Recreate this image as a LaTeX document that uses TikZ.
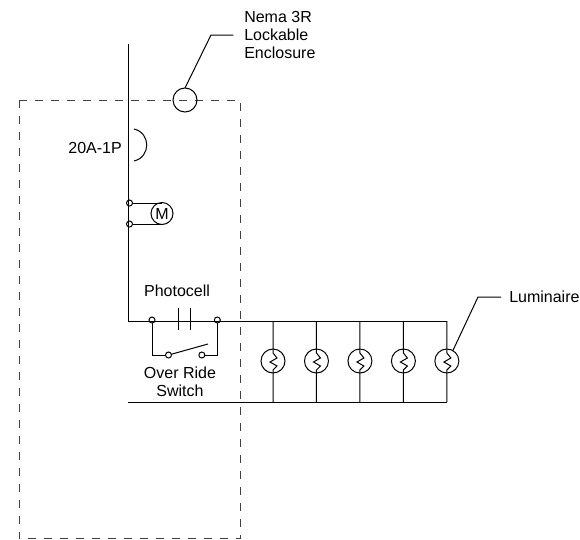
\documentclass[tikz,border=0pt]{standalone}
\usepackage{fontspec}
\setmainfont{Liberation Sans}
\usetikzlibrary{positioning}

\begin{document}
\begin{tikzpicture}[
        x=0.75pt, y=-0.75pt,
        wire/.style={line width=0.75pt},
        label/.style={inner sep=0pt, align=center, font=\fontsize{12}{13.5}\selectfont},
        terminal/.style={draw, circle, inner sep=0pt, outer sep=0pt, minimum size=4.5pt, line width=0.75pt},
        lamp/.style={draw, circle, inner sep=0pt, outer sep=0pt, minimum size=18pt, line width=0.75pt},
        motor/.style={draw, circle, inner sep=0pt, outer sep=0pt, minimum size=16.5pt, line width=0.75pt, font=\fontsize{12}{13.5}\selectfont},
        enclosure/.style={line width=0.75pt, draw=black!75, dash pattern=on 6pt off 6pt}
    ]
        \useasboundingbox (0,0) rectangle (580,539);

        % Enclosure
        \coordinate (boxA) at (19,100);
        \coordinate (boxB) at (240,538.8);
        \draw[enclosure] (boxA) rectangle (boxB);
        \node[lamp] (enc) at (185,100) {};
        \node[label, anchor=west, align=left] (nema) at (244,35) {Nema 3R\\[0pt]Lockable\\[0pt]Enclosure};
        \coordinate (nemakink) at (211,35);
        \draw[wire, shorten >=8pt] (enc.north) -- (nemakink) -- (nema.west);

        % Feeder
        \coordinate (feedtop) at (128,44);
        \coordinate (feedcorner) at (128,321);
        \coordinate (feedend) at (447,321);
        \coordinate (neutralstart) at (128,402);
        \coordinate (neutralend) at (447,402);
        \draw[wire] (feedtop) -- (feedcorner) -- (feedend);
        \draw[wire] (neutralstart) -- (neutralend);

        % Breaker
        \coordinate (brkA) at (134,129);
        \coordinate (brkB) at (134,161);
        \coordinate (brkC) at (151,133);
        \coordinate (brkD) at (151,157);
        \draw[wire] (brkA) .. controls (brkC) and (brkD) .. (brkB);
        \node[label, anchor=east] (breaker) at (122,148) {20A-1P};

        % Motor
        \node[terminal] (mtrA) at (129.5,203) {};
        \node[terminal, below=11.25pt of mtrA] (mtrB) {};
        \node[motor] (mtr) at (162,213.5) {M};
        \draw[wire] (mtrA) -- (mtrA -| mtr);
        \draw[wire] (mtrB) -- (mtrB -| mtr);

        % Photocell
        \node[label] (photo) at (177,291) {Photocell};
        \node[terminal] (pcA) at (152,320) {};
        \node[terminal, right=44.5pt of pcA] (pcB) {};
        \coordinate (plateA) at (178,308);
        \coordinate (plateB) at (178,330);
        \coordinate (plateC) at (190,308);
        \coordinate (plateD) at (190,330);
        \draw[wire] (plateA) -- (plateB);
        \draw[wire] (plateC) -- (plateD);

        % Over ride switch
        \node[terminal] (swA) at (168.5,355) {};
        \node[terminal, right=20.5pt of swA] (swB) {};
        \coordinate (swtip) at (208,344);
        \draw[wire] (pcA) |- (swA);
        \draw[wire] (pcB) |- (swB);
        \draw[wire] (swA.15) -- (swtip);
        \node[label] (override) at (180,382) {Over Ride\\[0pt]Switch};

        % Luminaires
        \node[lamp] (lamp1) at (273,361) {};
        \node[lamp, right=14.6pt of lamp1] (lamp2) {};
        \node[lamp, right=14.6pt of lamp2] (lamp3) {};
        \node[lamp, right=14.6pt of lamp3] (lamp4) {};
        \node[lamp, right=14.6pt of lamp4] (lamp5) {};
        \foreach \i in {1,...,5} {
            \draw[wire] (lamp\i.north |- feedend) -- (lamp\i.north)
                -- ++(0,4) -- ++(4,5) -- ++(-7,4) -- ++(7,4) -- ++(-4,4) -- (lamp\i.south)
                -- (lamp\i.south |- neutralend);
        }
        \node[label, anchor=west] (lum) at (509,297) {Luminaire};
        \coordinate (lumkink) at (478,297);
        \draw[wire, shorten >=6pt] (lamp5.60) -- (lumkink) -- (lum.west);
    \end{tikzpicture}
\end{document}
